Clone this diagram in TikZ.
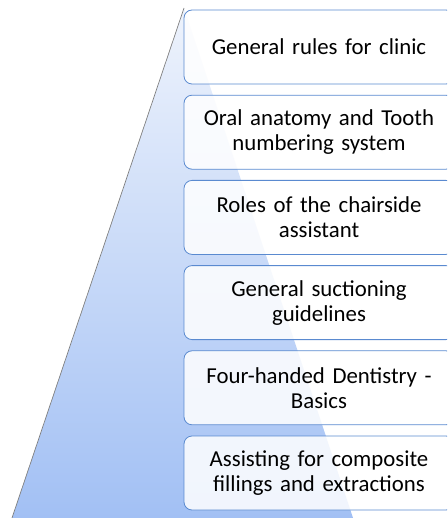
\documentclass[tikz,border=0pt]{standalone}
\usepackage{fontspec}
\setmainfont{Carlito}
\usepackage{xcolor}
\usetikzlibrary{positioning}
\definecolor{boxline}{HTML}{5A8AD0}
\definecolor{pyrtop}{HTML}{EEF3FC}
\definecolor{pyrbottom}{HTML}{A2C0F4}
\tikzset{
	topic/.style = {draw = boxline, line width = 0.8pt, fill = white, fill opacity = 0.85, text opacity = 1,
		rounded corners = 8pt, minimum width = 270pt, minimum height = 74pt, text width = 260pt,
		align = center, inner sep = 0pt, font = \fontsize{22.8}{25}\selectfont}
}
\begin{document}
\begin{tikzpicture}[x = 1pt, y = 1pt]
		\useasboundingbox (0,0) rectangle (447,-518);
		\clip (0,0) rectangle (447,-518);
		% pyramid behind the topics
		\shade[top color = pyrtop, bottom color = pyrbottom] (184,-8) -- (353,-518) -- (12,-518) -- cycle;
		\draw[gray, line width = 0.7pt] (184,-8) -- (12,-518);
		% topics, top to bottom
		\node[topic] (rules) at (319,-47) {General rules for clinic};
		\node[topic, below = 10.4pt of rules] (anatomy) {Oral anatomy and Tooth\\numbering system};
		\node[topic, below = 10.4pt of anatomy] (roles) {Roles of the chairside\\assistant};
		\node[topic, below = 10.4pt of roles] (suction) {General suctioning\\guidelines};
		\node[topic, below = 10.4pt of suction] (fourhand) {Four-handed Dentistry -\\Basics};
		\node[topic, below = 10.4pt of fourhand] (fillings) {Assisting for composite\\fillings and extractions};
	\end{tikzpicture}
\end{document}
